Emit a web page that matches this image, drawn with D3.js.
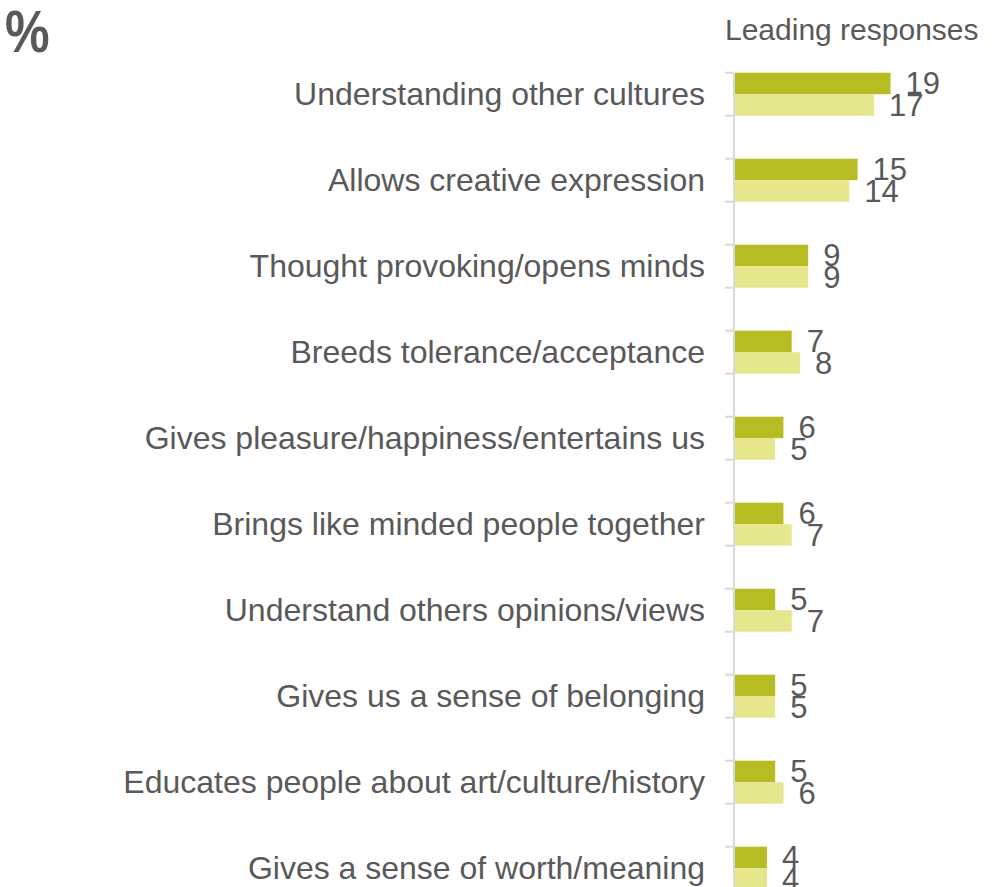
<!DOCTYPE html>
<html><head><meta charset="utf-8">
<script src="https://cdn.jsdelivr.net/npm/d3@7"></script>
<style>body{margin:0;background:#fff}svg{display:block}</style>
</head><body>
<script>
const categories = ["Understanding other cultures","Allows creative expression","Thought provoking/opens minds","Breeds tolerance/acceptance","Gives pleasure/happiness/entertains us","Brings like minded people together","Understand others opinions/views","Gives us a sense of belonging","Educates people about art/culture/history","Gives a sense of worth/meaning"];
const seriesA = [19,15,9,7,6,6,5,5,5,4];
const seriesB = [17,14,9,8,5,7,7,5,6,4];
const title = "%";
const header = "Leading responses";

const W=997,H=887;
const svg=d3.select("body").append("svg").attr("width",W).attr("height",H);
const font="'Liberation Sans', Arial, sans-serif", txt="#595959";
const x=d3.scaleLinear().domain([0,20]).range([734,734+164.8]);
const y=d3.scaleBand().domain(categories).range([51.2,911.2]).paddingInner(0.5).paddingOuter(0.25);
const bw=y.bandwidth(), half=bw/2;

svg.append("text").attr("transform","translate(5,52) scale(0.85,1)").attr("font-family",font).attr("font-size",59).attr("font-weight","bold").attr("fill",txt).text(title);
svg.append("text").attr("x",725).attr("y",40).attr("font-family",font).attr("font-size",30).attr("fill",txt).text(header);

// axis
const ax=svg.append("g");
ax.append("line").attr("x1",734).attr("x2",734).attr("y1",y(categories[0])).attr("y2",H).attr("stroke","#d9d9d9").attr("stroke-width",2);
categories.forEach(c=>{
  [y(c),y(c)+bw].forEach(t=>ax.append("line").attr("x1",725).attr("x2",734).attr("y1",t).attr("y2",t).attr("stroke","#d9d9d9").attr("stroke-width",2));
});

const g=svg.append("g");
g.selectAll(".a").data(categories).join("rect").attr("x",x(0)+1).attr("y",c=>y(c)).attr("width",(c,i)=>x(seriesA[i])-x(0)-1).attr("height",half).attr("fill","#b6bd22");
g.selectAll(".b").data(categories).join("rect").attr("x",x(0)+1).attr("y",c=>y(c)+half).attr("width",(c,i)=>x(seriesB[i])-x(0)-1).attr("height",half).attr("fill","#e6e68c");

g.selectAll(".lab").data(categories).join("text").attr("x",705).attr("y",c=>y(c)+half).attr("dy","0.35em").attr("text-anchor","end").attr("font-family",font).attr("font-size",32).attr("fill",txt).text(c=>c);
g.selectAll(".va").data(categories).join("text").attr("x",(c,i)=>x(seriesA[i])+15).attr("y",c=>y(c)+half/2).attr("dy","0.35em").attr("font-family",font).attr("font-size",31).attr("fill",txt).text((c,i)=>seriesA[i]);
g.selectAll(".vb").data(categories).join("text").attr("x",(c,i)=>x(seriesB[i])+15).attr("y",c=>y(c)+1.5*half).attr("dy","0.35em").attr("font-family",font).attr("font-size",31).attr("fill",txt).text((c,i)=>seriesB[i]);
</script>
</body></html>
